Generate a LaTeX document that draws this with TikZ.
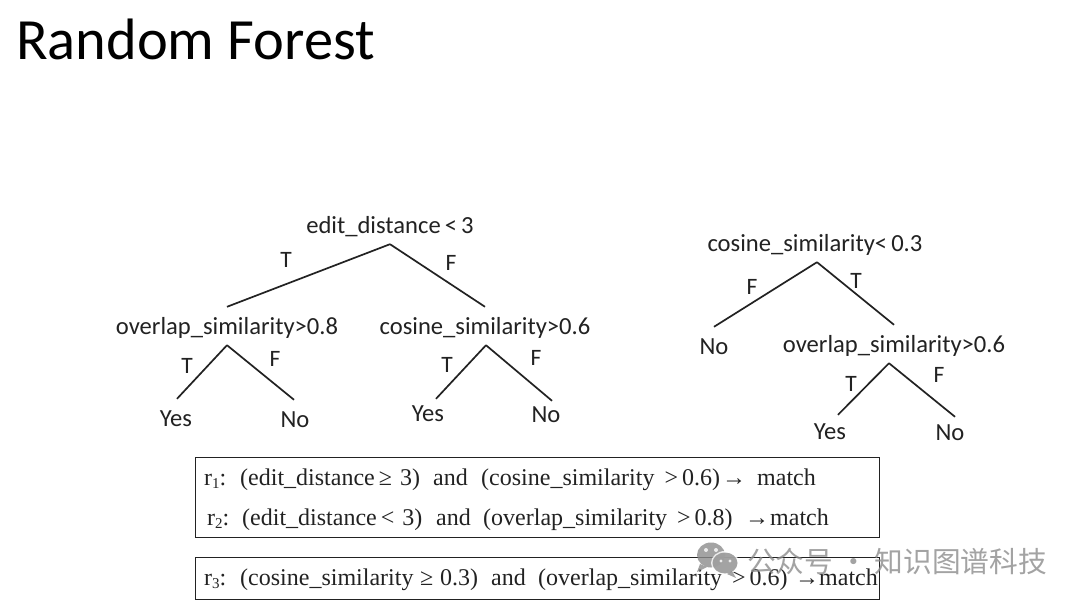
\documentclass[tikz,border=0pt]{standalone}
\usepackage{fontspec}
\usepackage{graphicx}
\setmainfont{Carlito}
\newfontfamily\rulefont{Liberation Serif}
\newfontfamily\cjkmark{Noto Sans CJK SC}
\definecolor{ink}{HTML}{222222}
\definecolor{markgray}{HTML}{8C8C8C}
\tikzset{
  cond/.style={inner sep=0pt,minimum height=38pt,text=ink,font=\fontsize{24.6}{25}\selectfont,text height=21pt,text depth=4pt},
  flag/.style={inner sep=0pt,text=ink,font=\fontsize{23.5}{24}\selectfont},
  branch/.style={draw=ink,line width=1.7pt},
  rulebox/.style={draw=ink,line width=1pt},
  rulepart/.style={anchor=base west,inner sep=0pt,text=ink,font=\rulefont\fontsize{24}{25}\selectfont},
}
\newcommand{\rsub}[1]{\raisebox{-0.3ex}{\fontsize{15}{15}\selectfont #1}}
\begin{document}
\begin{tikzpicture}[x=1pt,y=-1pt]
\useasboundingbox (0,0) rectangle (1080,604);
\fill[white] (0,0) rectangle (1080,604);
\node[anchor=base west,inner sep=0pt,text=black,font=\fontsize{58.4}{59}\selectfont] (title) at (16,60) {Random Forest};
% tree 1
\node[cond] (root1) at (390,225) {edit\_distance\,<\,3};
\node[cond] (ov1) at (227,326) {overlap\_similarity>0.8};
\node[cond] (cos1) at (485,326) {cosine\_similarity>0.6};
\node[cond] (yes1) at (176,418) {Yes};
\node[cond] (no1) at (295,419) {No};
\node[cond] (yes2) at (428,413) {Yes};
\node[cond] (no2) at (546,414) {No};
\draw[branch] (root1.south) -- (ov1.north);
\draw[branch] (root1.south) -- (cos1.north);
\draw[branch] (ov1.south) -- ([xshift=1pt]yes1.north);
\draw[branch] (ov1.south) -- ([xshift=-1pt]no1.north);
\draw[branch] ([xshift=1pt]cos1.south) -- ([xshift=8pt,yshift=-5pt]yes2.north);
\draw[branch] ([xshift=1pt]cos1.south) -- ([xshift=6pt,yshift=-6pt]no2.north);
\node[flag] (t1) at (286,260) {T};
\node[flag] (f1) at (451,263) {F};
\node[flag] (t2) at (187,366) {T};
\node[flag] (f2) at (275,359) {F};
\node[flag] (t3) at (447,365) {T};
\node[flag] (f3) at (536,358) {F};
% tree 2
\node[cond] (root2) at (815,243) {cosine\_similarity<\,0.3};
\node[cond] (no3) at (714,346) {No};
\node[cond] (ov2) at (894,344) {overlap\_similarity>0.6};
\node[cond] (yes3) at (830,431) {Yes};
\node[cond] (no4) at (950,432) {No};
\draw[branch] ([xshift=2pt]root2.south) -- (no3.north);
\draw[branch] ([xshift=2pt]root2.south) -- (ov2.north);
\draw[branch] ([xshift=-5pt]ov2.south) -- ([xshift=8pt,yshift=-3pt]yes3.north);
\draw[branch] ([xshift=-5pt]ov2.south) -- ([xshift=5pt,yshift=-4pt]no4.north);
\node[flag] (f4) at (752,287) {F};
\node[flag] (t4) at (856,281) {T};
\node[flag] (t5) at (851,384) {T};
\node[flag] (f5) at (939,375) {F};
% rules
\node[rulebox,inner sep=0pt,minimum width=684pt,minimum height=80pt] (box1) at (537,497) {};
\node[rulebox,inner sep=0pt,minimum width=684pt,minimum height=42pt] (box2) at (537,578) {};
\node[rulepart] (a1) at (204,485) {r\rsub{1}:};
\node[rulepart] (a2) at (240,485) {(edit\_distance\,≥\,\,3)};
\node[rulepart] (a3) at (433,485) {and};
\node[rulepart] (a4) at (481,485) {(cosine\_similarity\, >\,0.6)};
\node[rulepart] (a5) at (722,485) {→};
\node[rulepart] (a6) at (757,485) {match};
\node[rulepart] (b1) at (207,525) {r\rsub{2}:};
\node[rulepart] (b2) at (242,525) {(edit\_distance\,<\,\,3)};
\node[rulepart] (b3) at (436,525) {and};
\node[rulepart] (b4) at (483,525) {(overlap\_similarity\, >\,0.8)};
\node[rulepart] (b5) at (745,525) {→};
\node[rulepart] (b6) at (770,525) {match};
\node[rulepart] (c1) at (204,585) {r\rsub{3}:};
\node[rulepart] (c2) at (240,585) {(cosine\_similarity\;≥\;0.3)};
\node[rulepart] (c3) at (491,585) {and};
\node[rulepart] (c4) at (538,585) {(overlap\_similarity\, >\,0.6)};
\node[rulepart] (c5) at (795,585) {→};
\node[rulepart] (c6) at (819,585) {match};
% watermark
\begin{scope}[opacity=.8]
\fill[markgray] (711,555) ellipse (14pt and 12.5pt);
\fill[markgray] (700,564) -- (697,572) -- (707,567) -- cycle;
\fill[white] (725,563) ellipse (14pt and 12pt);
\fill[markgray] (725,563) ellipse (12.5pt and 10.5pt);
\fill[markgray] (732,571) -- (736,578) -- (727,574) -- cycle;
\fill[white] (706,550) circle (2pt) (716,550) circle (2pt) (721,561) circle (1.6pt) (730,561) circle (1.6pt);
\node[anchor=west,inner sep=0pt,text=markgray,font=\cjkmark\fontsize{28.7}{29}\selectfont] (mark) at (747,562) {公众号 · 知识图谱科技};
\end{scope}
\end{tikzpicture}
\end{document}
